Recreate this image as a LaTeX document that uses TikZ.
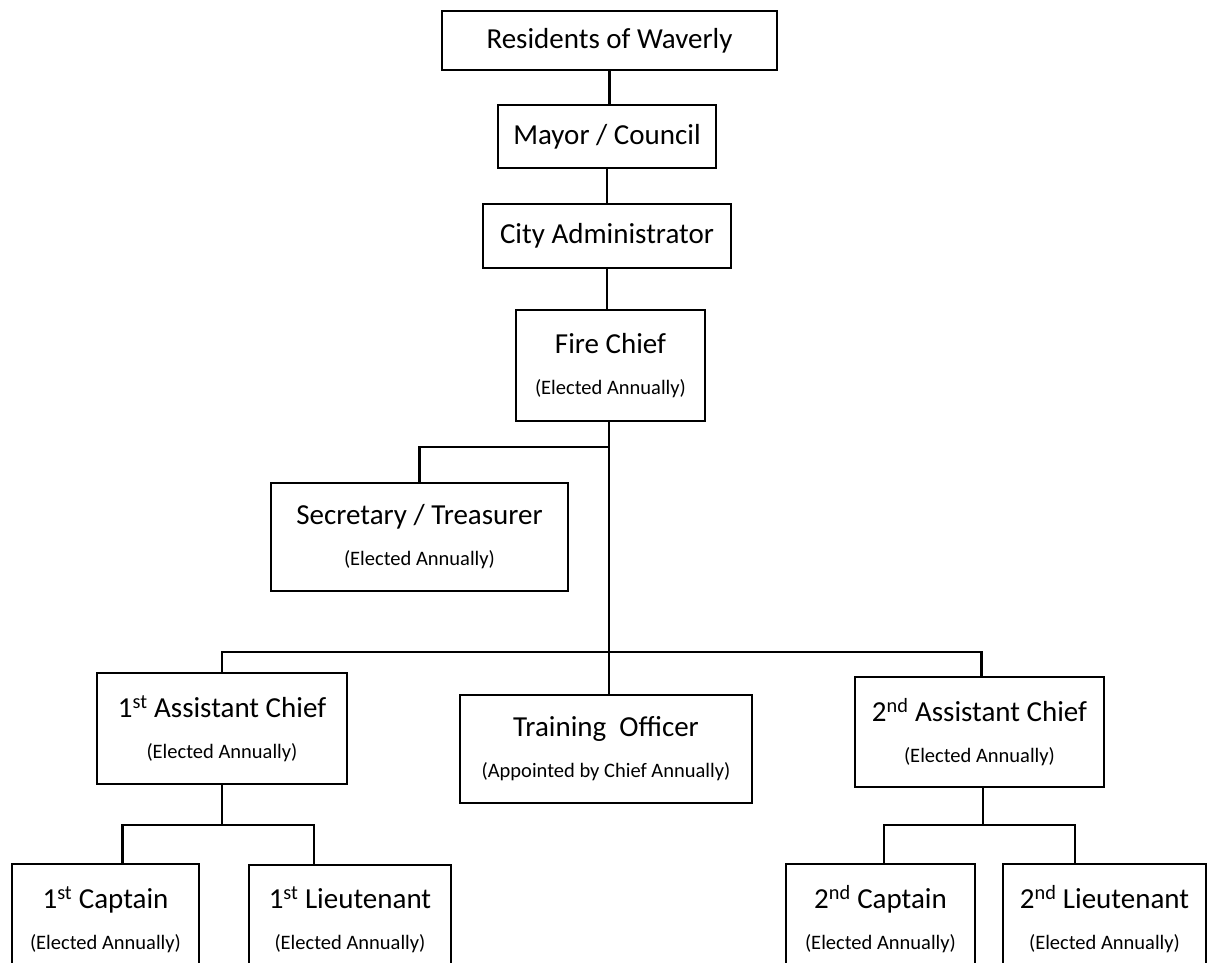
\documentclass[tikz,border=0pt]{standalone}
\usepackage{fontspec}
\setmainfont{Carlito}
\newcommand\bigtxt{\fontsize{29}{34}\selectfont}
\newcommand\smtxt{\fontsize{20.5}{24}\selectfont}
\tikzset{
  box/.style={draw, line width=2pt, rectangle, inner sep=0pt, align=center, font=\bigtxt},
  conn/.style={line width=2.5pt},
}
\begin{document}
\begin{tikzpicture}[x=1pt,y=-1pt]
\useasboundingbox[fill=white] (0,0) rectangle (1207,963);
% top chain
\node[box, minimum width=335pt, minimum height=59pt] (res) at (609.5,40.5) {Residents of Waverly};
\node[box, minimum width=218pt, minimum height=63pt] (mayor) at (607,136.5) {Mayor / Council};
\node[box, minimum width=248pt, minimum height=64pt] (city) at (607,236) {City Administrator};
\node[box, minimum width=189pt, minimum height=111pt] (chief) at (610.5,365.5) {Fire Chief\\[7pt]\smtxt (Elected Annually)};
% second level
\node[box, minimum width=297pt, minimum height=108pt] (sec) at (419.5,537) {Secretary / Treasurer\\[7pt]\smtxt (Elected Annually)};
\node[box, minimum width=250pt, minimum height=111pt] (asst1) at (222,728.5) {1\textsuperscript{st} Assistant Chief\\[7pt]\smtxt (Elected Annually)};
\node[box, minimum width=292pt, minimum height=108pt] (train) at (606,749) {Training\ \ Officer\\[7pt]\smtxt (Appointed by Chief Annually)};
\node[box, minimum width=249pt, minimum height=110pt] (asst2) at (979.5,732) {2\textsuperscript{nd} Assistant Chief\\[7pt]\smtxt (Elected Annually)};
% bottom row
\node[box, minimum width=187pt, minimum height=111pt] (cap1) at (105.5,919.5) {1\textsuperscript{st} Captain\\[7pt]\smtxt (Elected Annually)};
\node[box, minimum width=202pt, minimum height=110pt] (lt1) at (350,920) {1\textsuperscript{st} Lieutenant\\[7pt]\smtxt (Elected Annually)};
\node[box, minimum width=189pt, minimum height=111pt] (cap2) at (880.5,919.5) {2\textsuperscript{nd} Captain\\[7pt]\smtxt (Elected Annually)};
\node[box, minimum width=203pt, minimum height=111pt] (lt2) at (1104.5,919.5) {2\textsuperscript{nd} Lieutenant\\[7pt]\smtxt (Elected Annually)};
% junctions
\coordinate (bus1) at (609,447);
\coordinate (bus2) at (609,652);
\coordinate (j1) at (222,825);
\coordinate (j2) at (983,825);
% connectors
\draw[conn] (res.south) -- (res.south |- mayor.north);
\draw[conn] (mayor.south) -- (mayor.south |- city.north);
\draw[conn] (city.south) -- (city.south |- chief.north);
\draw[conn] (chief.south -| bus1) -- (bus1 |- train.north);
\draw[conn] (sec.north) |- (bus1);
\draw[conn] (asst1.north) |- (bus2) -| ([xshift=2pt]asst2.north);
\draw[conn] (asst1.south) -- (j1);
\draw[conn] ([xshift=17pt]cap1.north) |- (j1) -| ([xshift=-36pt]lt1.north);
\draw[conn] ([xshift=3.5pt]asst2.south) -- (j2);
\draw[conn] ([xshift=3.5pt]cap2.north) |- (j2) -| ([xshift=-29.5pt]lt2.north);
\end{tikzpicture}
\end{document}
